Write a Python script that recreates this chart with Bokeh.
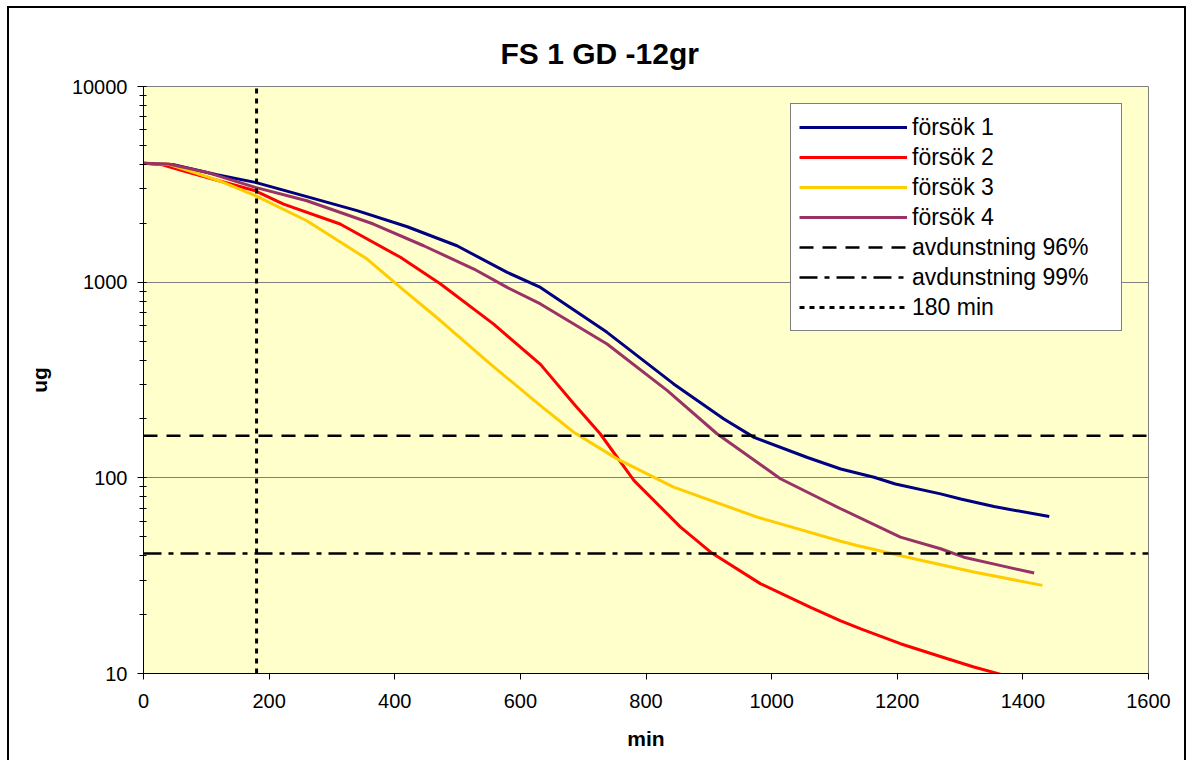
from bokeh.plotting import figure
from bokeh.models import Range1d, FixedTicker, Legend, LegendItem
from bokeh.embed import file_html
from bokeh.resources import INLINE

FONT = "Liberation Sans"

title_text = "FS 1 GD  -12gr"
x_label = "min"
y_label = "ug"

# försök 1
x1 = [0, 48, 117, 178, 260, 340, 420, 499, 579, 632, 738, 844, 924, 972, 1057, 1110, 1163, 1197, 1269, 1301, 1354, 1442]
y1 = [4050, 3980, 3540, 3235, 2735, 2320, 1920, 1535, 1122, 940, 554, 302, 200, 161, 127, 111, 100.7, 93, 82.8, 78, 71.3, 63.4]
# försök 2
x2 = [0, 30, 64, 120, 178, 223, 313, 409, 473, 557, 632, 685, 727, 781, 855, 903, 982, 1062, 1110, 1142, 1205, 1280, 1322, 1365]
y2 = [4050, 3980, 3700, 3300, 2930, 2506, 1982, 1340, 979, 612, 380, 239, 168, 96.8, 56, 41.7, 28.8, 21.8, 18.6, 16.9, 14.2, 11.9, 10.8, 9.9]
# försök 3
x3 = [0, 40, 74, 120, 178, 260, 356, 409, 473, 552, 632, 685, 754, 844, 977, 1110, 1136, 1216, 1322, 1431]
y3 = [4050, 4000, 3700, 3300, 2766, 2060, 1313, 940, 635, 382, 234, 171, 125, 89.6, 63, 47.4, 45.1, 39.3, 33, 28.2]
# försök 4
x4 = [0, 40, 101, 178, 260, 366, 446, 526, 579, 632, 738, 834, 913, 1014, 1110, 1205, 1269, 1306, 1365, 1418]
y4 = [4050, 4020, 3640, 3050, 2606, 1982, 1535, 1167, 940, 774, 483, 279, 168, 98.9, 69.5, 49.8, 43.4, 39.3, 35.6, 32.6]

threshold_96 = 164
threshold_99 = 41
marker_min = 180

x_start, x_end = 0, 1600
y_start, y_end = 10, 10000
x_ticks = [0, 200, 400, 600, 800, 1000, 1200, 1400, 1600]
y_ticks = [10, 100, 1000, 10000]
y_tick_labels = ["10", "100", "1000", "10000"]
y_minor = [m * 10 ** e for e in (1, 2, 3) for m in range(2, 10)]

legend_labels = ["försök 1", "försök 2", "försök 3", "försök 4",
                 "avdunstning 96%", "avdunstning 99%", "180 min"]

p = figure(width=1179, height=760, y_axis_type="log",
           x_range=Range1d(x_start, x_end), y_range=Range1d(y_start, y_end),
           output_backend="svg", toolbar_location=None,
           min_border_left=134, min_border_right=40,
           min_border_top=78, min_border_bottom=95)
p.margin = (6, 0, 0, 7)
p.styles = {"border": "2px solid black"}

p.background_fill_color = "#FFFFCC"
p.border_fill_color = "white"
p.outline_line_color = "#808080"
p.outline_line_width = 1

p.title.text = title_text
p.title.text_font = FONT
p.title.text_font_size = "30px"
p.title.text_font_style = "bold"
p.title.text_color = "black"
p.title.align = "left"
p.title.offset = 357
p.title.vertical_align = "top"
p.title.standoff = 30

p.xgrid.visible = False
p.ygrid.grid_line_color = "#7f7f7f"
p.ygrid.grid_line_width = 1

p.xaxis.ticker = FixedTicker(ticks=x_ticks)
p.yaxis.ticker = FixedTicker(ticks=y_ticks, minor_ticks=y_minor)
p.yaxis.major_label_overrides = {t: l for t, l in zip(y_ticks, y_tick_labels)}

for ax in (p.xaxis[0], p.yaxis[0]):
    ax.axis_line_color = "black"
    ax.major_tick_line_color = "black"
    ax.minor_tick_line_color = "black"
    ax.major_label_text_font = FONT
    ax.major_label_text_font_size = "20px"
    ax.major_label_text_color = "black"
    ax.axis_label_text_font = FONT
    ax.axis_label_text_font_size = "21px"
    ax.axis_label_text_font_style = "bold"
    ax.axis_label_text_color = "black"

p.xaxis.axis_label = x_label
p.yaxis.axis_label = y_label
p.xaxis.major_tick_in = 0
p.xaxis.major_tick_out = 6
p.xaxis.minor_tick_line_color = None
p.xaxis.major_label_standoff = 14
p.xaxis.axis_label_standoff = 16
p.yaxis.major_tick_in = 3
p.yaxis.major_tick_out = 6
p.yaxis.minor_tick_in = 3
p.yaxis.minor_tick_out = 4
p.yaxis.major_label_standoff = 10
p.yaxis.axis_label_standoff = 18

r1 = p.line(x1, y1, line_color="#000080", line_width=3)
r2 = p.line(x2, y2, line_color="#FF0000", line_width=3)
r3 = p.line(x3, y3, line_color="#FFCC00", line_width=3)
r4 = p.line(x4, y4, line_color="#993366", line_width=3)
r5 = p.line([x_start, x_end], [threshold_96, threshold_96], line_color="black",
            line_width=2.5, line_dash="14 9")
r6 = p.line([x_start, x_end], [threshold_99, threshold_99], line_color="black",
            line_width=2.5, line_dash="18 7 5 7")
r7 = p.line([marker_min, marker_min], [y_start, y_end], line_color="black",
            line_width=3, line_dash="5 5")

legend = Legend(items=[LegendItem(label=l, renderers=[r])
                       for l, r in zip(legend_labels, [r1, r2, r3, r4, r5, r6, r7])],
                location=(647, 342))
legend.label_text_font = FONT
legend.label_text_font_size = "23px"
legend.label_text_color = "black"
legend.padding = 8
legend.spacing = 0
legend.glyph_width = 108
legend.glyph_height = 30
legend.label_height = 30
legend.label_standoff = 5
legend.label_width = 201
legend.border_line_color = "black"
legend.border_line_width = 1
legend.background_fill_color = "white"
legend.background_fill_alpha = 1
legend.margin = 0
p.add_layout(legend)

open("out.html", "w").write(file_html(p, INLINE))
